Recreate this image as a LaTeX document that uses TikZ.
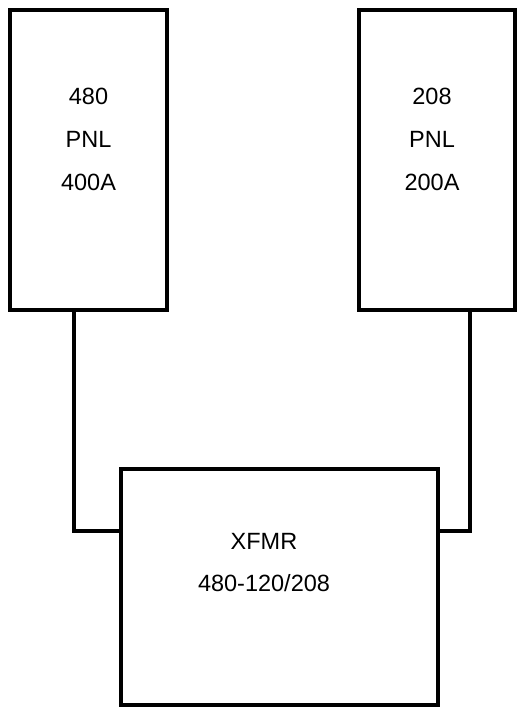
\documentclass[tikz,border=0pt]{standalone}
\usepackage{fontspec}
\setmainfont{Liberation Sans}
\usepackage{tikz}

\tikzset{
  panel/.style={draw, line width=4pt, minimum width=#1, inner sep=0pt},
  wire/.style={line width=4pt},
  lbl/.style={anchor=base, inner sep=0pt, font=\fontsize{23.5}{28}\selectfont}
}

\begin{document}
\begin{tikzpicture}[x=1pt, y=-1pt]
    \useasboundingbox (0,0) rectangle (517,707);

    %% the two panels
    \node[panel=157pt, minimum height=300pt] (lpnl) at (88.5,160) {};
    \node[panel=156pt, minimum height=300pt] (rpnl) at (437,160) {};

    %% the transformer
    \node[panel=317pt, minimum height=236pt] (xfmr) at (279.5,587) {};

    %% panel texts
    \node[lbl] (lvolt) at (88.5,104.4) {480};
    \node[lbl] (lname) at (88.5,147.4) {PNL};
    \node[lbl] (lamp) at (88.5,190.4) {400A};
    \node[lbl] (rvolt) at (432,104.4) {208};
    \node[lbl] (rname) at (432,147.4) {PNL};
    \node[lbl] (ramp) at (432,190.4) {200A};

    %% transformer texts
    \node[lbl] (xname) at (264,549.4) {XFMR};
    \node[lbl] (xvolt) at (264,591.4) {480-120/208};

    %% feeders
    \draw[wire] ([xshift=-14.5pt]lpnl.south) |- ([yshift=56pt]xfmr.west);
    \draw[wire] ([xshift=33pt]rpnl.south) |- ([yshift=56pt]xfmr.east);
\end{tikzpicture}
\end{document}
